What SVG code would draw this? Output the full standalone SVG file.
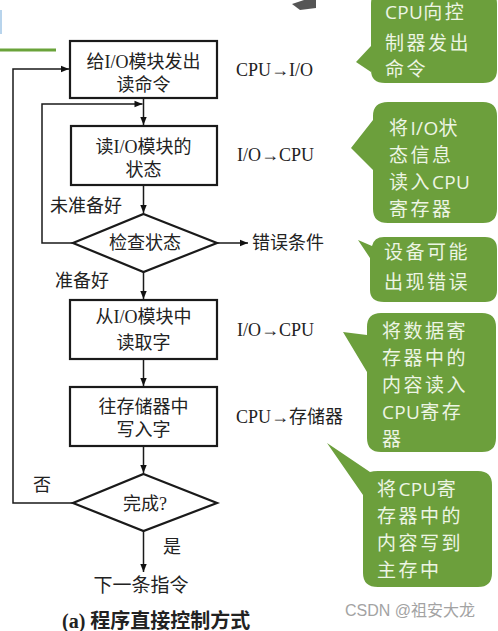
<svg xmlns="http://www.w3.org/2000/svg" width="498" height="631" viewBox="0 0 498 631">
<defs>
<marker id="ah" viewBox="0 0 10 10" refX="10" refY="5" markerWidth="10" markerHeight="8" markerUnits="userSpaceOnUse" orient="auto">
<path d="M0,1 L10,5 L0,9 Z" fill="#111"/>
</marker>
<style>
.box{fill:#fff;stroke:#1a1a1a;stroke-width:2.2}
.ln{fill:none;stroke:#1a1a1a;stroke-width:1.5}
.t{font-family:"Liberation Serif","Noto Sans CJK SC",serif;font-size:18px;fill:#222}
.c{text-anchor:middle}
.call{fill:#6c9f3c}
.ct{font-family:"Open Sans","Noto Sans CJK SC",sans-serif;font-size:19px;letter-spacing:2.5px;fill:#edf5e4}
.la{letter-spacing:0.3px}
</style>
</defs>
<rect width="498" height="631" fill="#fff"/>
<line x1="0" y1="50" x2="56" y2="50" stroke="#6aa33a" stroke-width="3"/>
<line x1="1" y1="10" x2="1" y2="34" stroke="#b8d4ec" stroke-width="2"/>
<path d="M292,4 L304,0 L316,0 L316,8 L300,10 Z" fill="#555"/>

<g id="connectors">
<polyline class="ln" points="73,503 13,503 13,69 69,69" marker-end="url(#ah)"/>
<line class="ln" x1="143.5" y1="98" x2="143.5" y2="125" marker-end="url(#ah)"/>
<polyline class="ln" points="73,243 42,243 42,104 142.5,104" marker-end="url(#ah)"/>
<line class="ln" x1="143.5" y1="185" x2="143.5" y2="213" marker-end="url(#ah)"/>
<line class="ln" x1="217" y1="243" x2="248" y2="243" marker-end="url(#ah)"/>
<line class="ln" x1="143.5" y1="272" x2="143.5" y2="299" marker-end="url(#ah)"/>
<line class="ln" x1="143.5" y1="359" x2="143.5" y2="386" marker-end="url(#ah)"/>
<line class="ln" x1="143.5" y1="446" x2="143.5" y2="473" marker-end="url(#ah)"/>
<line class="ln" x1="143.5" y1="531" x2="143.5" y2="572" marker-end="url(#ah)"/>
</g>

<g id="n1"><rect class="box" x="70" y="41" width="147" height="57"/>
<text class="t c" x="143.5" y="68">给I/O模块发出</text><text class="t c" x="143.5" y="91">读命令</text></g>
<g id="n2"><rect class="box" x="71" y="126" width="146" height="59"/>
<text class="t c" x="143.5" y="153">读I/O模块的</text><text class="t c" x="143.5" y="176">状态</text></g>
<g id="d1"><polygon class="box" points="143.5,214 217,243 143.5,272 73,243"/>
<text class="t c" x="145" y="249">检查状态</text></g>
<g id="n3"><rect class="box" x="70" y="300" width="147" height="59"/>
<text class="t c" x="143.5" y="323">从I/O模块中</text><text class="t c" x="143.5" y="349">读取字</text></g>
<g id="n4"><rect class="box" x="70" y="387" width="147" height="59"/>
<text class="t c" x="143.5" y="413">往存储器中</text><text class="t c" x="143.5" y="436">写入字</text></g>
<g id="d2"><polygon class="box" points="143.5,474 217,503 143.5,531 73,503"/>
<text class="t c" x="145" y="510">完成?</text></g>

<g id="labels">
<text class="t" x="236" y="76">CPU→I/O</text>
<text class="t" x="237" y="161">I/O→CPU</text>
<text class="t" x="252" y="249">错误条件</text>
<text class="t" x="237" y="336">I/O→CPU</text>
<text class="t" x="236" y="423">CPU→存储器</text>
<text class="t" x="50" y="212">未准备好</text>
<text class="t" x="55" y="287">准备好</text>
<text class="t" x="33" y="491">否</text>
<text class="t" x="163" y="553">是</text>
<text class="t c" x="141" y="592" style="font-size:19px">下一条指令</text>
<text class="t" x="62" y="628" style="font-size:20px;font-weight:bold">(a) 程序直接控制方式</text>
</g>

<g id="callout1"><path class="call" d="M385,-10 H483 Q497,-10 497,4 V70 Q497,83 483,83 H385 Q371,83 371,70 V72 L356,62 L371,46 V4 Q371,-10 385,-10 Z"/>
<text class="ct" x="385" y="19"><tspan class="la">CPU</tspan>向控</text><text class="ct" x="385" y="50">制器发出</text><text class="ct" x="385" y="76">命令</text></g>
<g id="callout2"><path class="call" d="M388,102 H483 Q497,102 497,116 V209 Q497,223 483,223 H388 Q373,223 373,209 V170 L351,148 L373,120 V116 Q373,102 388,102 Z"/>
<text class="ct" x="389" y="135">将<tspan class="la">I/O</tspan>状</text><text class="ct" x="389" y="162">态信息</text><text class="ct" x="389" y="189">读入<tspan class="la">CPU</tspan></text><text class="ct" x="389" y="216">寄存器</text></g>
<g id="callout3"><path class="call" d="M384,237 H485 Q497,237 497,249 V290 Q497,302 485,302 H384 Q370,302 370,290 V258 L358,240 L372,246 Q374,237 384,237 Z"/>
<text class="ct" x="384" y="259">设备可能</text><text class="ct" x="384" y="289">出现错误</text></g>
<g id="callout4"><path class="call" d="M381,313 H482 Q496,313 496,327 V438 Q496,452 482,452 H381 Q367,452 367,438 V372 L343,332 L367,335 V327 Q367,313 381,313 Z"/>
<text class="ct" x="382" y="338">将数据寄</text><text class="ct" x="382" y="365">存器中的</text><text class="ct" x="382" y="392">内容读入</text><text class="ct" x="382" y="419"><tspan class="la">CPU</tspan>寄存</text><text class="ct" x="382" y="446">器</text></g>
<g id="callout5"><path class="call" d="M378,471 H478 Q492,471 492,485 V573 Q492,587 478,587 H378 Q363,587 363,573 V495 L327,443 L370,472 Q373,471 378,471 Z"/>
<text class="ct" x="377" y="496">将<tspan class="la">CPU</tspan>寄</text><text class="ct" x="377" y="523">存器中的</text><text class="ct" x="377" y="550">内容写到</text><text class="ct" x="377" y="577">主存中</text></g>

<text x="345" y="616" style="font-family:'Liberation Sans','Noto Sans CJK SC',sans-serif;font-size:16px;fill:#a3a3a3">CSDN @祖安大龙</text>
</svg>
